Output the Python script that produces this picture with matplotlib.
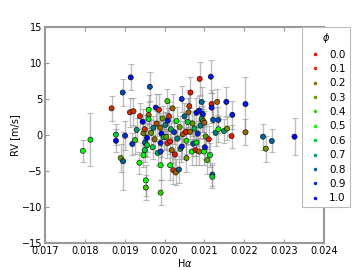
import matplotlib
matplotlib.use("Agg")
import matplotlib.pyplot as plt
from matplotlib.colors import LinearSegmentedColormap
from matplotlib.lines import Line2D
import numpy as np

halpha = [0.01795, 0.01814, 0.01867, 0.01878, 0.01878, 0.01890, 0.01896, 0.01895, 0.01901, 0.01913,
          0.01915, 0.01919, 0.01922, 0.01926, 0.01930, 0.01937, 0.01938, 0.01945, 0.01947, 0.01947,
          0.01950, 0.01950, 0.01951, 0.01953, 0.01953, 0.01956, 0.01956, 0.01960, 0.01960, 0.01960,
          0.01963, 0.01966, 0.01970, 0.01972, 0.01975, 0.01978, 0.01980, 0.01983, 0.01986, 0.01989,
          0.01990, 0.01990, 0.01990, 0.01990, 0.01992, 0.01995, 0.01998, 0.02002, 0.02004, 0.02007,
          0.02007, 0.02008, 0.02011, 0.02014, 0.02014, 0.02016, 0.02018, 0.02020, 0.02022, 0.02024,
          0.02026, 0.02028, 0.02030, 0.02032, 0.02036, 0.02038, 0.02040, 0.02043, 0.02043, 0.02046,
          0.02050, 0.02054, 0.02055, 0.02055, 0.02058, 0.02060, 0.02062, 0.02064, 0.02065, 0.02068,
          0.02070, 0.02072, 0.02075, 0.02078, 0.02080, 0.02080, 0.02083, 0.02087, 0.02087, 0.02088,
          0.02090, 0.02093, 0.02093, 0.02096, 0.02097, 0.02099, 0.02100, 0.02101, 0.02103, 0.02107,
          0.02111, 0.02114, 0.02116, 0.02118, 0.02118, 0.02120, 0.02120, 0.02122, 0.02128, 0.02132,
          0.02135, 0.02135, 0.02149, 0.02155, 0.02157, 0.02168, 0.02170, 0.02203, 0.02203, 0.02247,
          0.02254, 0.02269, 0.02326]
rv = [-2.2, -0.65, 3.7, 0.05, -0.8, -3.2, -3.65, 5.9, -0.1, 3.15,
      8.0, -1.25, 3.3, -0.7, 0.7, -3.85, 2.6, 1.85, -2.8, 0.25,
      0.8, -2.1, -1.05, -6.3, -7.3, -0.4, -1.4, 3.5, 2.8, 2.2,
      6.7, 0.3, -1.7, 1.0, -0.6, 3.8, 1.6, -2.5, 3.5, 1.0,
      -8.0, -4.2, -2.3, -1.1, 0.2, 2.3, -0.3, 1.4, -0.25, 4.7,
      -1.15, 2.0, 2.6, -4.2, -0.9, 0.8, -2.1, 3.7, -4.9, 0.4,
      -2.7, -5.2, 1.95, -0.5, -4.8, 1.1, -1.9, 5.0, -1.6, 0.1,
      2.6, 0.45, -3.2, -0.8, 1.8, 3.15, 4.0, 0.45, 5.9, -2.3,
      1.6, -1.2, 0.9, -2.1, 3.1, -1.05, 0.2, -2.3, 3.4, 7.8,
      1.3, 4.6, 2.2, 2.9, 1.95, -2.3, 1.7, -1.7, -0.2, -3.5,
      -0.6, -2.8, 8.1, 4.3, 3.8, -5.5, -5.8, 2.1, 0.3, 4.6,
      2.1, 0.8, 0.55, 4.6, 0.9, -0.15, 2.8, 4.3, 0.37, -0.23,
      -1.9, -0.83, -0.23]
rv_err = [1.5, 3.7, 1.7, 1.5, 1.6, 2.0, 4.0, 1.9, 2.0, 2.0,
          1.8, 1.5, 1.9, 2.0, 1.7, 1.5, 1.8, 1.7, 1.7, 1.6,
          2.0, 1.6, 1.8, 2.2, 1.7, 2.0, 1.6, 2.0, 1.8, 1.6,
          2.0, 1.8, 1.7, 1.6, 1.9, 1.9, 1.8, 1.7, 2.2, 2.0,
          1.7, 2.0, 1.8, 1.9, 1.7, 1.7, 1.8, 1.8, 1.7, 1.7,
          2.0, 1.8, 2.0, 2.0, 1.8, 1.7, 1.8, 2.0, 1.9, 1.6,
          2.0, 1.8, 2.0, 1.7, 1.9, 1.6, 1.8, 1.8, 1.8, 1.8,
          1.9, 1.8, 2.0, 1.8, 1.6, 2.0, 2.2, 1.7, 2.2, 1.8,
          1.8, 1.7, 1.9, 2.0, 2.0, 1.8, 1.7, 1.8, 2.0, 2.3,
          1.7, 2.0, 1.8, 1.8, 1.6, 1.8, 1.7, 1.7, 1.7, 1.9,
          1.8, 1.7, 2.3, 2.0, 2.1, 1.6, 1.6, 1.7, 1.8, 1.8,
          1.8, 1.8, 1.7, 2.0, 1.6, 1.6, 1.9, 3.7, 1.8, 1.8,
          1.8, 1.6, 2.6]
phase = [0.5, 0.55, 0.1, 0.6, 1.0, 0.3, 0.8, 0.85, 0.9, 0.1,
         0.95, 0.9, 0.1, 0.4, 0.7, 0.5, 0.05, 1.0, 0.5, 0.25,
         0.1, 0.6, 0.8, 0.5, 0.4, 1.0, 0.6, 0.5, 0.2, 0.55,
         0.85, 0.3, 0.6, 0.75, 0.2, 0.95, 0.15, 0.65, 0.05, 0.2,
         0.4, 0.5, 0.9, 0.95, 1.0, 0.3, 0.6, 0.75, 0.3, 0.4,
         0.1, 0.95, 0.1, 0.5, 0.05, 0.65, 0.2, 0.2, 0.1, 0.9,
         0.05, 0.2, 0.5, 0.75, 0.8, 0.3, 0.7, 0.9, 0.95, 0.15,
         0.8, 0.05, 0.3, 0.45, 0.6, 0.2, 0.1, 0.2, 0.05, 0.5,
         0.3, 0.85, 0.65, 0.05, 1.0, 0.55, 0.9, 0.2, 0.95, 0.05,
         0.75, 0.8, 0.65, 0.95, 0.2, 0.5, 0.2, 0.95, 0.3, 0.35,
         0.05, 0.55, 0.95, 0.05, 0.95, 0.8, 0.6, 0.85, 0.75, 0.2,
         0.85, 0.5, 0.7, 0.95, 0.3, 0.05, 0.95, 0.95, 0.2, 0.8,
         0.3, 0.8, 1.0]

legend_phases = [0.0, 0.1, 0.2, 0.3, 0.4, 0.5, 0.6, 0.7, 0.8, 0.9, 1.0]
xticks = [0.017, 0.018, 0.019, 0.020, 0.021, 0.022, 0.023, 0.024]
yticks = [-15, -10, -5, 0, 5, 10, 15]

cmap = LinearSegmentedColormap.from_list("rgb_phase", [(1, 0, 0), (0, 1, 0), (0, 0, 1)])

fig = plt.figure(figsize=(3.6, 2.7), dpi=100)
ax = fig.add_axes([0.125, 0.1, 0.775, 0.8])

ax.errorbar(halpha, rv, yerr=rv_err, fmt='none', ecolor='gray', alpha=0.5,
            elinewidth=1.0, capsize=2, capthick=0.8, zorder=1)
ax.scatter(halpha, rv, c=phase, cmap=cmap, vmin=0, vmax=1, s=14,
           edgecolors='black', linewidths=0.4, zorder=2)

ax.set_xlim(0.017, 0.024)
ax.set_ylim(-15, 15)
ax.set_xticks(xticks)
ax.set_xticklabels([f"{t:.3f}" for t in xticks])
ax.set_yticks(yticks)
ax.tick_params(direction='in', top=True, right=True, labelsize=7, color='#999999',
               length=3, pad=2)
for s in ax.spines.values():
    s.set_color('#999999')
    s.set_linewidth(1.5)
ax.set_xlabel(r"H$\alpha$", fontsize=7, labelpad=1)
ax.set_ylabel("RV [m/s]", fontsize=7, labelpad=1)

handles = [Line2D([], [], linestyle='none', marker='o', markersize=2.5,
                  markerfacecolor=cmap(p), markeredgecolor='none') for p in legend_phases]
labels = [f"{p:.1f}" for p in legend_phases]
leg = fig.legend(handles, labels, title=r"$\phi$", loc='upper left',
                 bbox_to_anchor=(0.839, 0.9), borderaxespad=0, fontsize=7.5,
                 title_fontsize=7, fancybox=False, framealpha=1, labelcolor='black',
                 labelspacing=0.42, handletextpad=0.6, handlelength=1.6)
leg.get_frame().set_edgecolor('#bbbbbb')
leg.get_frame().set_linewidth(0.8)

fig.savefig("out.png", dpi=100)
